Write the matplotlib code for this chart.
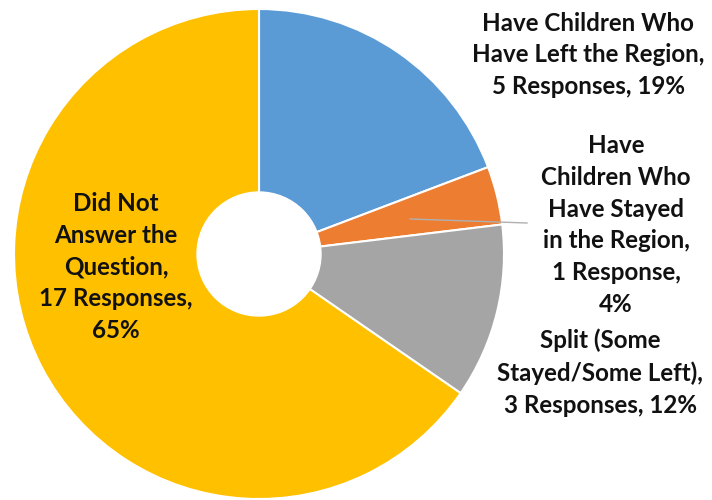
import matplotlib.pyplot as plt
from matplotlib.patches import Circle

labels = [
    'Have Children Who\nHave Left the Region,\n5 Responses, 19%',
    'Have\nChildren Who\nHave Stayed\nin the Region,\n1 Response,\n4%',
    'Split (Some\nStayed/Some Left),\n3 Responses, 12%',
    'Did Not\nAnswer the\nQuestion,\n17 Responses,\n65%',
]
responses = [5, 1, 3, 17]
colors = ['#5B9BD5', '#ED7D31', '#A5A5A5', '#FFC000']

W, H = 712, 500
cx, cy, R = 259, 254, 245


def px(x, y):
    # pixel position (top-left origin) -> pie data coords
    return (x - cx) / R, (cy - y) / R


fig = plt.figure(figsize=(W / 100, H / 100), dpi=100)
ax = fig.add_axes([(cx - R) / W, (H - cy - R) / H, 2 * R / W, 2 * R / H])
ax.pie(responses, colors=colors, startangle=90, counterclock=False,
       radius=1, wedgeprops=dict(edgecolor='white', linewidth=1.5))
ax.add_patch(Circle((0, 0), 62 / R, color='white', zorder=5))
ax.set_xlim(-1, 1)
ax.set_ylim(-1, 1)
ax.set_aspect('equal')
ax.axis('off')

# leader line for the small orange slice
x0, y0 = px(410, 219)
x1, y1 = px(527, 223)
ax.plot([x0, x1], [y0, y1], color='#b0b0b0', lw=1, clip_on=False, zorder=6)

font = dict(family='Lato', weight='bold', size=17.4, color='#111111',
            ha='center', va='center', linespacing=1.47)
pos = [(588, 55), (616, 225), (600, 373), (116, 267)]
for lab, (x, y) in zip(labels, pos):
    tx, ty = px(x, y)
    ax.text(tx, ty, lab, clip_on=False, zorder=7, **font)

fig.savefig('out.png', dpi=100)
